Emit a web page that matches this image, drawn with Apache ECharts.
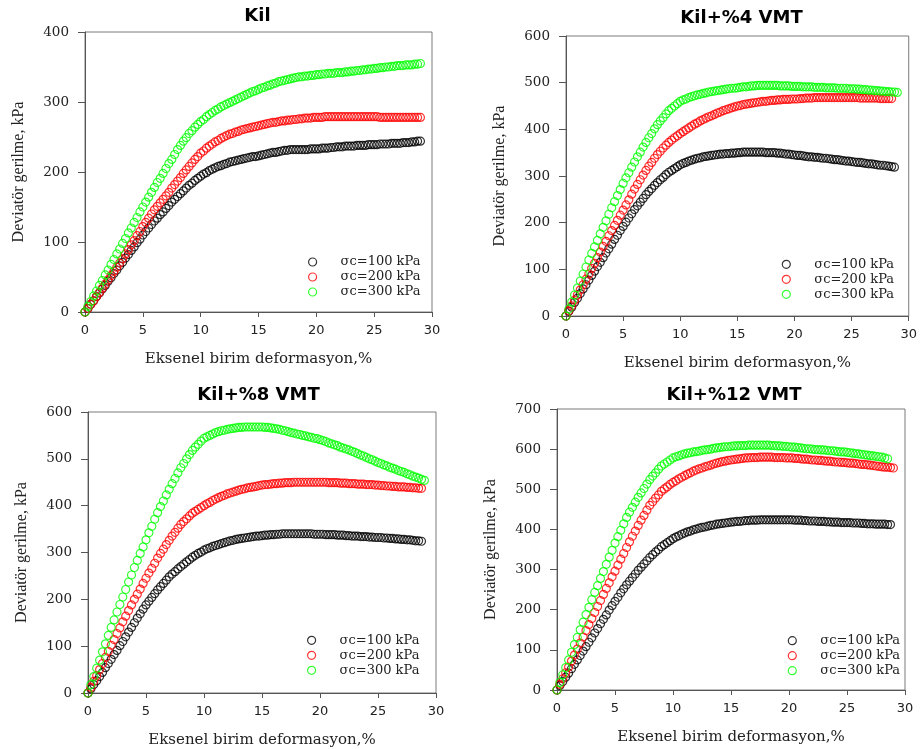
<!DOCTYPE html>
<html><head><meta charset="utf-8">
<script src="https://cdn.jsdelivr.net/npm/echarts@6/dist/echarts.min.js"></script>
<style>html,body{margin:0;padding:0;background:#fff}#c{width:920px;height:749px}</style>
</head><body><div id="c"></div>
<script>
// ---------- DATA ----------
const strain = [0,0.25,0.5,0.75,1,1.25,1.5,1.75,2,2.25,2.5,2.75,3,3.25,3.5,3.75,4,4.25,4.5,4.75,5,5.25,5.5,5.75,6,6.25,6.5,6.75,7,7.25,7.5,7.75,8,8.25,8.5,8.75,9,9.25,9.5,9.75,10,10.25,10.5,10.75,11,11.25,11.5,11.75,12,12.25,12.5,12.75,13,13.25,13.5,13.75,14,14.25,14.5,14.75,15,15.25,15.5,15.75,16,16.25,16.5,16.75,17,17.25,17.5,17.75,18,18.25,18.5,18.75,19,19.25,19.5,19.75,20,20.25,20.5,20.75,21,21.25,21.5,21.75,22,22.25,22.5,22.75,23,23.25,23.5,23.75,24,24.25,24.5,24.75,25,25.25,25.5,25.75,26,26.25,26.5,26.75,27,27.25,27.5,27.75,28,28.25,28.5,28.75,29];

const panelTitles = ['Kil', 'Kil+%4 VMT', 'Kil+%8 VMT', 'Kil+%12 VMT'];
const seriesNames = ['σc=100 kPa', 'σc=200 kPa', 'σc=300 kPa'];
const xAxisName = 'Eksenel birim deformasyon,%';
const yAxisName = 'Deviatör gerilme, kPa';
const xTickStep = 5;
const xMax = 30;
const yMaxes = [400, 600, 600, 700];
const yTickStep = 100;

// Kil
const kil_100 = [0,5,11,16, 22,27,33,38, 44,49,55,60, 66,71,77,82, 88,93,99,104, 110,115,120,125, 130,134,139,143, 148,152,157,161, 165,169,173,177, 181,184,188,191, 194,197,199,202, 204,206,208,209, 211,212,214,215, 216,217,218,219, 220,221,222,222, 223,224,225,226, 227,228,228,229, 230,231,231,232, 232,232,232,232, 232,232,233,233, 233,233,234,234, 234,235,235,236, 236,236,237,237, 237,237,238,238, 238,238,239,239, 239,239,240,240, 240,240,241,241, 241,241,242,242, 242,243,243,244, 244];
const kil_200 = [0,5,11,16, 22,28,34,40, 46,52,58,64, 70,76,83,89, 96,102,109,115, 122,128,134,140, 146,151,156,161, 166,171,177,182, 187,192,198,203, 208,213,218,222, 227,230,234,237, 240,243,245,248, 250,252,254,255, 257,258,260,261, 262,263,264,265, 266,267,268,269, 270,271,271,272, 273,273,274,274, 275,275,276,276, 277,277,277,278, 278,278,278,279, 279,279,279,279, 279,279,279,279, 279,279,279,279, 279,279,279,279, 279,279,278,278, 278,278,278,278, 278,278,278,278, 278,278,278,278, 278];
const kil_300 = [0,8,15,23, 30,38,45,53, 60,68,75,83, 90,98,105,113, 120,128,135,143, 150,157,164,171, 178,185,191,198, 205,212,218,225, 232,238,244,249, 255,259,264,268, 272,275,279,282, 285,288,290,293, 295,297,299,301, 303,305,307,309, 311,313,315,316, 318,320,321,323, 324,326,327,329, 330,331,332,333, 334,335,336,336, 337,337,338,338, 339,339,340,340, 341,341,341,342, 342,342,343,343, 344,344,345,345, 346,346,347,347, 348,348,349,349, 350,350,351,351, 352,352,352,353, 353,353,354,354, 355];

// Kil+%4 VMT
const vmt4_100 = [0,10,19,29, 38,48,58,67, 77,87,96,106, 115,125,135,144, 154,164,173,183, 192,201,210,219, 228,236,244,252, 260,267,273,280, 286,292,297,303, 308,312,316,320, 324,327,329,332, 334,336,338,339, 341,342,343,344, 345,346,347,347, 348,348,349,349, 350,350,351,351, 351,351,351,351, 351,351,350,350, 350,350,349,349, 348,347,347,346, 345,344,344,343, 342,341,341,340, 340,339,338,338, 337,336,335,335, 334,333,332,332, 331,330,329,329, 328,327,326,326, 325,324,323,323, 322,321,320,319];
const vmt4_200 = [0,11,22,34, 45,56,67,79, 90,102,113,125, 137,149,160,172, 183,194,205,216, 227,238,249,261, 272,282,292,302, 312,321,329,338, 346,353,360,366, 372,377,382,386, 391,395,399,403, 407,411,414,418, 421,424,427,429, 432,435,437,440, 442,444,446,448, 450,451,453,454, 455,456,457,458, 459,460,460,461, 462,462,463,463, 464,464,464,465, 465,465,466,466, 467,467,467,468, 468,468,468,468, 468,468,468,468, 468,468,468,468, 468,468,468,467, 467,467,467,467, 467,467,466,466, 466,466,466];
const vmt4_300 = [0,15,30,45, 60,75,90,105, 120,134,148,162, 176,190,204,218, 232,245,258,271, 284,296,307,319, 330,341,351,362, 372,382,391,401, 410,418,425,433, 440,445,450,455, 460,463,465,468, 470,472,474,475, 477,478,480,481, 482,483,484,485, 486,487,488,488, 489,490,491,491, 492,493,493,494, 494,494,494,494, 494,494,494,493, 493,493,493,492, 492,492,492,491, 491,491,491,490, 490,490,490,489, 489,489,489,488, 488,488,488,487, 487,487,486,486, 485,485,484,484, 483,483,482,482, 481,481,480,480, 479];

// Kil+%8 VMT
const vmt8_100 = [0,9,18,26, 35,44,54,63, 72,82,91,101, 110,120,130,140, 150,160,169,179, 188,196,204,212, 220,227,234,241, 248,254,259,265, 270,275,280,285, 290,294,298,301, 305,308,310,313, 315,317,319,321, 323,325,326,328, 329,330,331,332, 333,334,335,335, 336,337,337,338, 338,339,339,340, 340,340,340,340, 340,340,340,340, 340,340,339,339, 339,339,338,338, 338,338,337,337, 337,336,336,335, 335,335,334,334, 334,333,333,332, 332,332,331,331, 330,330,329,329, 328,328,327,327, 326,325,325,324];
const vmt8_200 = [0,12,25,37, 50,63,76,89, 102,114,127,139, 152,164,176,188, 200,211,222,234, 245,256,266,277, 288,298,307,317, 326,335,343,352, 360,366,372,378, 384,388,392,396, 400,404,407,411, 414,417,420,422, 425,427,429,431, 433,435,436,438, 439,440,441,443, 444,445,445,446, 447,447,448,448, 449,449,449,450, 450,450,450,450, 450,450,450,450, 450,450,450,449, 449,449,449,448, 448,448,447,447, 447,446,446,446, 445,445,445,444, 444,443,443,442, 442,441,441,440, 440,440,439,439, 438,438,437,437];
const vmt8_300 = [0,18,35,53, 70,88,105,123, 140,156,173,189, 205,221,237,252, 268,283,298,312, 327,342,356,371, 385,398,410,423, 435,447,458,470, 481,490,500,509, 518,525,531,538, 544,547,550,553, 556,558,560,561, 563,564,565,566, 567,567,568,568, 568,568,568,568, 568,567,567,566, 565,564,563,561, 560,558,556,555, 553,552,550,549, 547,546,544,543, 541,539,537,534, 532,530,528,525, 523,521,519,516, 514,511,508,506, 503,500,498,495, 492,490,487,485, 482,480,478,475, 473,471,468,466, 463,461,459,456, 454];

// Kil+%12 VMT
const vmt12_100 = [0,11,21,32, 42,53,64,75, 86,97,108,119, 130,142,153,165, 176,187,199,210, 221,231,242,252, 262,271,280,289, 298,306,314,322, 330,337,344,350, 357,362,367,372, 377,381,384,388, 391,394,396,399, 401,403,405,406, 408,410,411,413, 414,415,416,417, 418,419,420,420, 421,422,422,423, 423,423,424,424, 424,424,424,424, 424,424,424,424, 424,424,423,423, 423,422,422,421, 421,421,420,420, 420,419,419,418, 418,418,417,417, 417,417,416,416, 416,415,415,414, 414,414,413,413, 413,413,412,412];
const vmt12_200 = [0,14,28,43, 57,72,87,102, 117,132,148,163, 178,193,208,223, 238,253,267,282, 296,311,326,340, 355,369,383,396, 410,423,435,448, 460,469,478,486, 495,501,506,512, 517,521,526,530, 534,538,541,545, 548,551,553,556, 558,560,563,565, 567,569,570,572, 573,574,575,576, 577,578,578,579, 579,579,580,580, 580,580,580,579, 579,579,579,578, 578,578,577,577, 576,575,575,574, 573,573,572,572, 571,570,570,569, 568,568,567,567, 566,565,565,564, 563,562,562,561, 560,559,558,557, 556,555,555,554, 553];
const vmt12_300 = [0,19,38,56, 75,94,113,131, 150,169,188,206, 225,243,260,278, 295,313,331,348, 366,382,398,414, 430,443,455,468, 480,491,502,513, 524,533,541,550, 558,563,568,573, 578,581,583,586, 588,590,591,593, 594,595,597,598, 599,600,602,603, 604,605,606,606, 607,608,608,609, 609,609,610,610, 610,610,610,610, 610,610,609,609, 608,608,607,607, 606,605,605,604, 603,602,601,601, 600,599,599,598, 598,597,596,596, 595,594,593,593, 592,591,590,589, 588,587,586,585, 584,583,582,581, 580,578,576];

const panelSeries = [
  [kil_100, kil_200, kil_300],
  [vmt4_100, vmt4_200, vmt4_300],
  [vmt8_100, vmt8_200, vmt8_300],
  [vmt12_100, vmt12_200, vmt12_300]
];

// ---------- LAYOUT / STYLE ----------
const colors = ['#000000', '#ff0000', '#00ff00'];
const layout = [
  {l: 85,  t: 32,  w: 347, h: 280, tx: 257.5, ty: 16.5, lgL: 308, lgT: 255.5},
  {l: 566, t: 36,  w: 347, h: 280, tx: 741.5, ty: 18.5, lgL: 781.7, lgT: 257.8},
  {l: 88,  t: 412, w: 348, h: 281, tx: 258.5, ty: 395,  lgL: 307, lgT: 633.8},
  {l: 557, t: 409, w: 348, h: 281, tx: 734,   ty: 395.5, lgL: 787.7, lgT: 634.2}
];

const grids = [], xAxes = [], yAxes = [], series = [], legends = [], graphics = [];
layout.forEach((p, i) => {
  grids.push({left: p.l, top: p.t, width: p.w, height: p.h, show: true, borderColor: '#7a7a7a', borderWidth: 1});
  xAxes.push({
    type: 'value', gridIndex: i, min: 0, max: xMax, interval: xTickStep,
    splitLine: {show: false},
    axisLine: {onZero: false, lineStyle: {color: '#555', width: 1}},
    axisTick: {length: 5, lineStyle: {color: '#555'}},
    axisLabel: {fontFamily: 'DejaVu Sans', fontSize: 13, color: '#222', margin: 12},
    name: xAxisName, nameLocation: 'middle', nameGap: 40,
    nameTextStyle: {fontFamily: 'DejaVu Serif', fontSize: 15, color: '#222'}
  });
  yAxes.push({
    type: 'value', gridIndex: i, min: 0, max: yMaxes[i], interval: yTickStep,
    splitLine: {show: false},
    axisLine: {show: true, onZero: false, lineStyle: {color: '#555', width: 1}},
    axisTick: {show: true, length: 7, lineStyle: {color: '#555'}},
    axisLabel: {fontFamily: 'DejaVu Serif', fontSize: 13.5, color: '#222', margin: 16},
    name: yAxisName, nameLocation: 'middle', nameGap: 58, nameRotate: 90,
    nameTextStyle: {fontFamily: 'Liberation Serif', fontSize: 16, color: '#222'}
  });
  panelSeries[i].forEach((vals, k) => {
    series.push({
      type: 'scatter', name: seriesNames[k], xAxisIndex: i, yAxisIndex: i,
      symbol: 'circle', symbolSize: 8, silent: true,
      itemStyle: {color: 'rgba(255,255,255,0)', borderColor: colors[k], borderWidth: 1.2},
      emphasis: {disabled: true},
      data: vals.map((v, j) => [strain[j], v])
    });
  });
  legends.push({
    orient: 'vertical', left: p.lgL, top: p.lgT, padding: 0,
    itemWidth: 46, itemHeight: 8, itemGap: 2,
    itemStyle: {borderWidth: 1.2},
    textStyle: {fontFamily: 'DejaVu Serif', fontSize: 13, color: '#222', lineHeight: 13},
    selectedMode: false,
    data: seriesNames.slice()
  });
  graphics.push({
    type: 'text', x: p.tx, y: p.ty, silent: true,
    style: {text: panelTitles[i], fill: '#000', fontFamily: 'DejaVu Sans', fontWeight: 'bold', fontSize: 18, align: 'center', verticalAlign: 'middle'}
  });
});

const chart = echarts.init(document.getElementById('c'), null, {renderer: 'canvas'});
chart.setOption({
  animation: false,
  backgroundColor: '#fff',
  grid: grids, xAxis: xAxes, yAxis: yAxes, series: series, legend: legends,
  graphic: graphics
});
</script></body></html>
